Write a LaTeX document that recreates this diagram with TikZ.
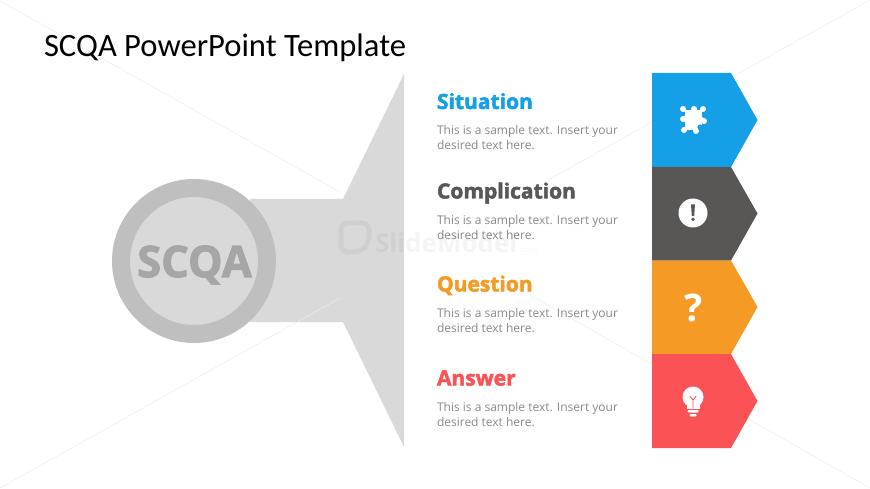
\documentclass[tikz,border=0pt]{standalone}
\usepackage{fontspec}
\setmainfont{Open Sans}
\newfontfamily\headfont[BoldFeatures={FakeBold=2.2}]{Open Sans}
\newfontfamily\titlefont{Carlito}
\definecolor{cblue}{HTML}{159FE6}
\definecolor{cdark}{HTML}{595756}
\definecolor{corange}{HTML}{F59B25}
\definecolor{cred}{HTML}{FB5355}
\definecolor{cbody}{HTML}{8A8A8A}
\tikzset{
  x=1pt,y=-1pt,
  px/.style={inner sep=0pt,outer sep=0pt},
  heading/.style={px,anchor=base west,font=\headfont\bfseries\fontsize{21}{24}\selectfont},
  bodytext/.style={px,anchor=north west,align=left,text=cbody,font=\fontsize{12}{15.6}\selectfont},
  faintline/.style={draw=black!7,line width=0.5pt},
  wmark/.style={px,anchor=base west,text=black,opacity=0.045},
}
\begin{document}
\begin{tikzpicture}
\useasboundingbox (0,0) rectangle (870,489);
\fill[white] (0,0) rectangle (870,489);
% background hairlines
\coordinate (wa) at (0,1); \coordinate (wb) at (340,192);
\coordinate (wc) at (0,488); \coordinate (wd) at (340,298);
\coordinate (we) at (870,0); \coordinate (wf) at (548,180);
\coordinate (wg) at (870,488); \coordinate (wh) at (530,295);
\draw[faintline] (wa) -- (wb);
\draw[faintline] (we) -- (wf);
\draw[faintline] (wg) -- (wh);
% title
\node[px,anchor=base west,font=\titlefont\fontsize{32.6}{35}\selectfont] (title) at (44,57) {SCQA PowerPoint Template};
% grey funnel
\fill[fill=black!15] (250,199) -- (343,199) -- (404,74) -- (404,447) -- (343,322) -- (250,322) -- cycle;
\draw[faintline] (wc) -- (wd);
% circle
\node[circle,px,minimum size=146pt,draw=black!25,line width=18pt,fill=black!15] (hub) at (194,261) {};
\node[px,text=black!35,font=\headfont\bfseries\fontsize{43.5}{46}\selectfont] (hubtext) at (194.5,265) {SCQA};
% arrows
\fill[cblue] (652,73) -- (731,73) -- (757.5,120) -- (731,167) -- (652,167) -- cycle;
\fill[cdark] (652,167) -- (731,167) -- (757.5,213.5) -- (731,260.5) -- (652,260.5) -- cycle;
\fill[corange] (652,260.5) -- (731,260.5) -- (757.5,307) -- (731,354) -- (652,354) -- cycle;
\fill[cred] (652,354) -- (731,354) -- (757.5,401) -- (731,448) -- (652,448) -- cycle;
% puzzle icon
\begin{scope}[shift={(670,95)}]
\fill[white,rounded corners=1pt] (13,14) -- (20,16) -- (24,12) -- (28,16) -- (33,14) -- (31,21) -- (36,25) -- (31,29) -- (27,36) -- (22,33) -- (14,36) -- (16,28) -- (12,24) -- (16,19) -- cycle;
\fill[white] (15,15) rectangle (32,31);
\fill[white] (16,31) rectangle (26,35);
\foreach \cx/\cy in {13/14,33/14,14/35,26/36,24/14,34/26,13/24}{\fill[white] (\cx,\cy) circle (3);}
\fill[cblue] (30,32) circle (2.6);
\end{scope}
% exclamation icon
\node[circle,px,minimum size=29pt,fill=white] (excl) at (693,213) {};
\fill[cdark] (691,204.5) -- (695,204.5) -- (694.2,216) -- (691.8,216) -- cycle;
\fill[cdark] (693,219.3) circle (1.9);
% question mark
\node[px,text=white,font=\fontsize{38}{40}\selectfont] (qm) at (693.5,307.5) {\bfseries ?};
% bulb icon
\fill[white] (693,397) circle (10.5);
\fill[white] (686.5,403) rectangle (699.5,409);
\draw[cred,line width=0.9pt,line cap=round] (690,396.5) -- (693,400) -- (696,396.5) (693,400) -- (693,408);
\fill[white,rounded corners=1pt] (687.5,410) rectangle (698.5,412.5);
\fill[white,rounded corners=1pt] (689.5,414) rectangle (696.5,416.5);
% texts
\node[heading,text=cblue] (h1) at (437,109) {Situation};
\node[bodytext] (b1) at (437,125) {This is a sample text. Insert your\\desired text here.};
\node[heading,text=cdark] (h2) at (437,198.5) {Complication};
\node[bodytext] (b2) at (437,215) {This is a sample text. Insert your\\desired text here.};
\node[heading,text=corange] (h3) at (437,291.5) {Question};
\node[bodytext] (b3) at (437,308) {This is a sample text. Insert your\\desired text here.};
\node[heading,text=cred] (h4) at (437,385.5) {Answer};
\node[bodytext] (b4) at (437,402) {This is a sample text. Insert your\\desired text here.};
% watermark
\draw[black,opacity=0.045,line width=5pt,rounded corners=7pt] (341,223) -- (369,223) -- (369,243) -- (361,252) -- (341,252) -- cycle;
\node[wmark,font=\bfseries\fontsize{26}{28}\selectfont] (wm) at (375,252) {SlideModel};
\node[wmark,font=\fontsize{8}{10}\selectfont] (wm2) at (519,252) {.com};
\end{tikzpicture}
\end{document}
